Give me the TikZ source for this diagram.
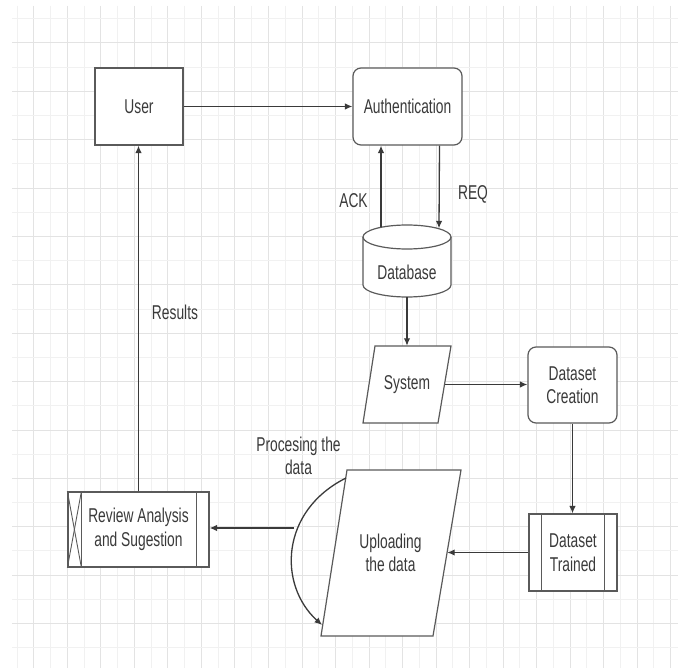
\documentclass[tikz,border=0pt]{standalone}
\usepackage{fontspec}
\setmainfont{Liberation Sans}[FakeStretch=0.69]
\usetikzlibrary{arrows.meta,calc}
\definecolor{ln}{HTML}{5A5A5A}
\definecolor{cn}{HTML}{3A3A3A}
\definecolor{txt}{HTML}{3A3A3A}
\definecolor{gmin}{HTML}{F1F1F1}
\definecolor{gmaj}{HTML}{E3E3E3}
\begin{document}
\begin{tikzpicture}[x=1pt,y=-1pt,
  base/.style={font=\fontsize{20}{23.5}\selectfont, text=txt, align=center, inner sep=0pt},
  boxs/.style={base, draw=ln, line width=1.2pt, fill=white},
  shp/.style={draw=ln, line width=1.2pt, fill=white},
  conn/.style={draw=cn, line width=1.3pt, -{Latex[length=7.5pt,width=6.5pt]}},
  lbl/.style={base}]
\useasboundingbox (0,0) rectangle (678,668);
\fill[white] (0,0) rectangle (678,668);
% grid
\foreach \k in {0,...,39}{
  \pgfmathtruncatemacro{\odd}{mod(\k,2)}
  \ifnum\odd=1 \def\gc{gmaj}\else\def\gc{gmin}\fi
  \draw[\gc, line width=0.8pt] ({17+16.76*\k},6) -- ({17+16.76*\k},668);
}
\foreach \k in {0,...,26}{
  \pgfmathtruncatemacro{\odd}{mod(\k,2)}
  \ifnum\odd=1 \def\gc{gmaj}\else\def\gc{gmin}\fi
  \draw[\gc, line width=0.8pt] (12,{18.7+24.19*\k}) -- (678,{18.7+24.19*\k});
}
% User
\node[boxs, minimum width=88pt, minimum height=77pt] (user) at (139,106.5) {User};
% Authentication
\node[boxs, rounded corners=8pt, minimum width=109pt, minimum height=77pt] (auth) at (407.5,106.5) {Authentication};
% Database cylinder
\path[shp] (363,237) -- (363,285) arc[start angle=180, end angle=360, x radius=44pt, y radius=12pt]
  -- (451,237) arc[start angle=0, end angle=180, x radius=44pt, y radius=12pt] -- cycle;
\draw[draw=ln, line width=1.2pt] (363,237) arc[start angle=180, end angle=360, x radius=44pt, y radius=12pt];
\node[minimum width=88pt, minimum height=72pt, inner sep=0pt] (db) at (407,261) {};
\node[base] (dbt) at (407,272) {Database};
% System
\path[shp] (375,346) -- (451,346) -- (438,423) -- (363,423) -- cycle;
\node[base, minimum width=75pt, minimum height=77pt] (sys) at (407,384.5) {System};
% Dataset Creation
\node[boxs, rounded corners=8pt, minimum width=89pt, minimum height=76pt] (dc) at (572.5,385) {Dataset\\Creation};
% Dataset Trained
\node[boxs, minimum width=88pt, minimum height=77pt] (dt) at (573,552.5) {Dataset\\Trained};
\draw[ln, line width=1.2pt] ([xshift=13pt]dt.north west) -- ([xshift=13pt]dt.south west);
\draw[ln, line width=1.2pt] ([xshift=-13pt]dt.north east) -- ([xshift=-13pt]dt.south east);
% Uploading
\path[shp] (347,470) -- (461,470) -- (433,636) -- (321,636) -- cycle;
\node[base, minimum width=113pt, minimum height=166pt] (up) at (390.5,553) {Uploading\\the data};
% Review
\node[boxs, minimum width=141pt, minimum height=75pt] (rev) at (138.5,529.5) {Review Analysis\\and Sugestion};
\draw[ln, line width=1.2pt] ([xshift=14pt]rev.north west) -- ([xshift=14pt]rev.south west);
\draw[ln, line width=1.2pt] ([xshift=-13pt]rev.north east) -- ([xshift=-13pt]rev.south east);
\draw[ln, line width=0.9pt] (rev.north west) -- ([xshift=14pt]rev.south west);
\draw[ln, line width=0.9pt] (rev.south west) -- ([xshift=14pt]rev.north west);
% connectors
\draw[conn] (user.east) -- (user.east -| auth.west);
\draw[conn] ([xshift=-26pt,yshift=-2.5pt]db.north) -- ([xshift=-26.5pt]auth.south);
\draw[conn] ([xshift=32pt]auth.south) -- ([xshift=32pt,yshift=-3.5pt]db.north);
\draw[conn] (db.south) -- (sys.north);
\draw[conn] (sys.east) -- (sys.east -| dc.west);
\draw[conn] (dc.south) -- (dc.south |- dt.north);
\draw[conn] (dt.west) -- (dt.west -| up.east);
\coordinate (c1) at (346,478);
\coordinate (c2) at (322,625);
\draw[conn] (c1) .. controls (280,511) and (278,585) .. (c2);
\coordinate (cv) at (294,528);
\draw[conn] (cv) -- (cv -| rev.east);
\draw[conn] (rev.north) -- (rev.north |- user.south);
% labels
\node[lbl] (ack) at (353.5,201) {ACK};
\node[lbl] (req) at (473,194) {REQ};
\node[lbl] (proc) at (298.5,456) {Procesing the\\data};
\node[lbl] (res) at (175,312) {Results};
\end{tikzpicture}
\end{document}
